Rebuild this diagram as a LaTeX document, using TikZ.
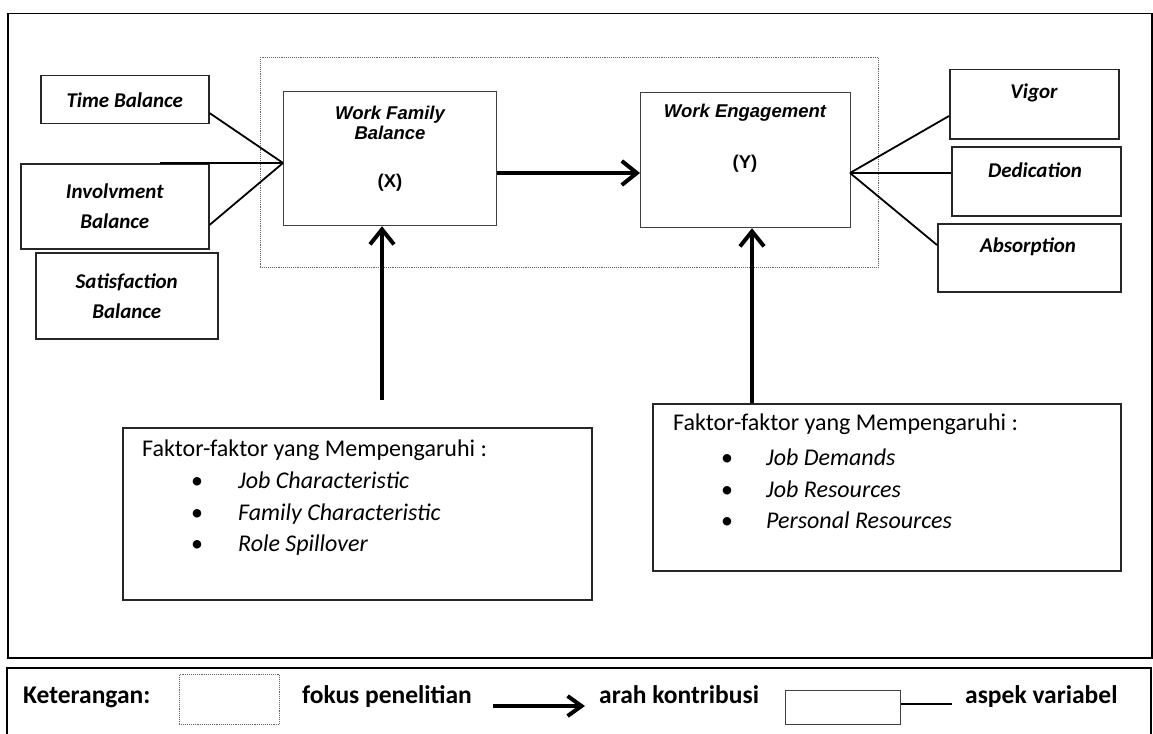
\documentclass[tikz,border=0pt]{standalone}
\usepackage{fontspec}
\setmainfont{Carlito}
\newfontfamily\arialf{Liberation Sans}
\usetikzlibrary{arrows.meta}
\begin{document}
\begin{tikzpicture}[x=1pt,y=-1pt,
  box/.style={draw=black!85, line width=1.5pt, inner sep=0pt, anchor=north west},
  varbox/.style={draw=black!75, line width=1.2pt, inner sep=0pt, anchor=north west},
  focusbox/.style={draw=black!60, line width=0.9pt, densely dotted, inner sep=0pt, anchor=north west},
  aspect/.style={font=\fontsize{21}{30}\selectfont\bfseries\itshape, align=center},
  varlab/.style={font=\arialf\fontsize{18.5}{20}\selectfont\bfseries\itshape, align=center, inner sep=0pt},
  varsym/.style={font=\arialf\fontsize{18.5}{20}\selectfont\bfseries, inner sep=0pt},
  conn/.style={line width=1.8pt},
  bigarrow/.style={line width=4pt, -{Straight Barb[length=15pt,width=24pt]}},
  factor/.style={font=\fontsize{24}{32}\selectfont, anchor=base west, inner sep=0pt},
  legendtext/.style={font=\fontsize{25.5}{30}\selectfont\bfseries, anchor=base west, inner sep=0pt},
]
\useasboundingbox (0,0) rectangle (1153,733);
\fill[white] (0,0) rectangle (1153,733);

% outer frame
\node[draw=black, line width=1.5pt, inner sep=0pt, anchor=north west,
      minimum width=1144pt, minimum height=644pt] (outer) at (7,13) {};

% research focus (dotted)
\node[focusbox, minimum width=618pt, minimum height=210pt] (focus) at (260,57) {};

% left aspect boxes
\node[box, aspect, minimum width=168pt, minimum height=48pt] (tb) at (40,75) {Time Balance};
\node[box, aspect, minimum width=188pt, minimum height=85pt] (ib) at (20,163) {Involvment\\Balance};
\node[box, aspect, minimum width=182pt, minimum height=86pt] (sb) at (35,252) {Satisfaction\\Balance};

% variable boxes
\node[varbox, minimum width=213pt, minimum height=134pt] (wfb) at (283,91) {};
\node[varlab] (wfbt) at (390,123) {Work Family\\Balance};
\node[varsym] (wfbx) at (390,183) {(X)};

\node[varbox, minimum width=210pt, minimum height=135pt] (we) at (640,92) {};
\node[varlab] (wet) at (745,113) {Work Engagement};
\node[varsym] (wey) at (745,164) {(Y)};

% right aspect boxes
\node[box, minimum width=169pt, minimum height=69pt] (vig) at (949,69) {};
\node[aspect] (vigt) at (1034,93) {Vigor};
\node[box, minimum width=169pt, minimum height=69pt] (ded) at (951,146) {};
\node[aspect] (dedt) at (1035,170) {Dedication};
\node[box, minimum width=183pt, minimum height=68pt] (abs) at (937,223) {};
\node[aspect] (abst) at (1028,247) {Absorption};

% connectors left
\coordinate (lconv) at (283,163);
\coordinate (ihl) at (160,163);
\draw[conn] (tb.east |- 0,113) -- (lconv);
\draw[conn] (ib.east |- 0,225) -- (lconv);
\draw[conn] (ihl) -- (lconv);

% connectors right
\coordinate (rconv) at (850,173);
\draw[conn] (rconv) -- (vig.west |- 0,116);
\draw[conn] (rconv) -- (ded.west |- 0,173);
\draw[conn] (rconv) -- (abs.west |- 0,245);

% main arrow
\draw[bigarrow] (wfb.east |- 0,173) -- (we.west |- 0,173);

% factor boxes
\node[box, minimum width=469pt, minimum height=172pt] (lf) at (122,427) {};
\node[factor] (lf0) at (142,456) {Faktor-faktor yang Mempengaruhi :};
\node[factor] (lfb1) at (191,488) {•};
\node[factor] (lf1) at (238,488) {\itshape Job Characteristic};
\node[factor] (lfb2) at (191,520) {•};
\node[factor] (lf2) at (238,520) {\itshape Family Characteristic};
\node[factor] (lfb3) at (191,551) {•};
\node[factor] (lf3) at (238,551) {\itshape Role Spillover};

\node[box, minimum width=468pt, minimum height=167pt] (rf) at (652,403) {};
\node[factor] (rf0) at (673,430) {Faktor-faktor yang Mempengaruhi :};
\node[factor] (rfb1) at (721,465) {•};
\node[factor] (rf1) at (766,465) {\itshape Job Demands};
\node[factor] (rfb2) at (721,497) {•};
\node[factor] (rf2) at (766,497) {\itshape Job Resources};
\node[factor] (rfb3) at (721,528) {•};
\node[factor] (rf3) at (766,528) {\itshape Personal Resources};

% vertical arrows
\coordinate (ltail) at (382,400);
\draw[bigarrow] (ltail) -- (wfb.south -| ltail);
\draw[bigarrow] (rf.north -| 752,0) -- (we.south -| 752,0);

% legend
\draw[black, line width=1.5pt] (7,735) -- (7,668) -- (1151,668) -- (1151,735);
\node[legendtext] (ket) at (23,703) {Keterangan:};
\node[focusbox, minimum width=100pt, minimum height=50pt] (lgfocus) at (179,674) {};
\node[legendtext] (lgfp) at (302,703) {fokus penelitian};
\coordinate (lgas) at (493,706);
\coordinate (lgae) at (585,706);
\draw[line width=4pt, -{Straight Barb[length=14pt,width=20pt]}] (lgas) -- (lgae);
\node[legendtext] (lgak) at (599,703) {arah kontribusi};
\node[varbox, minimum width=115pt, minimum height=34pt] (lgbox) at (785,690) {};
\coordinate (lgle) at (952,704);
\draw[conn] (lgbox.east |- lgle) -- (lgle);
\node[legendtext] (lgav) at (965,703) {aspek variabel};
\end{tikzpicture}
\end{document}
